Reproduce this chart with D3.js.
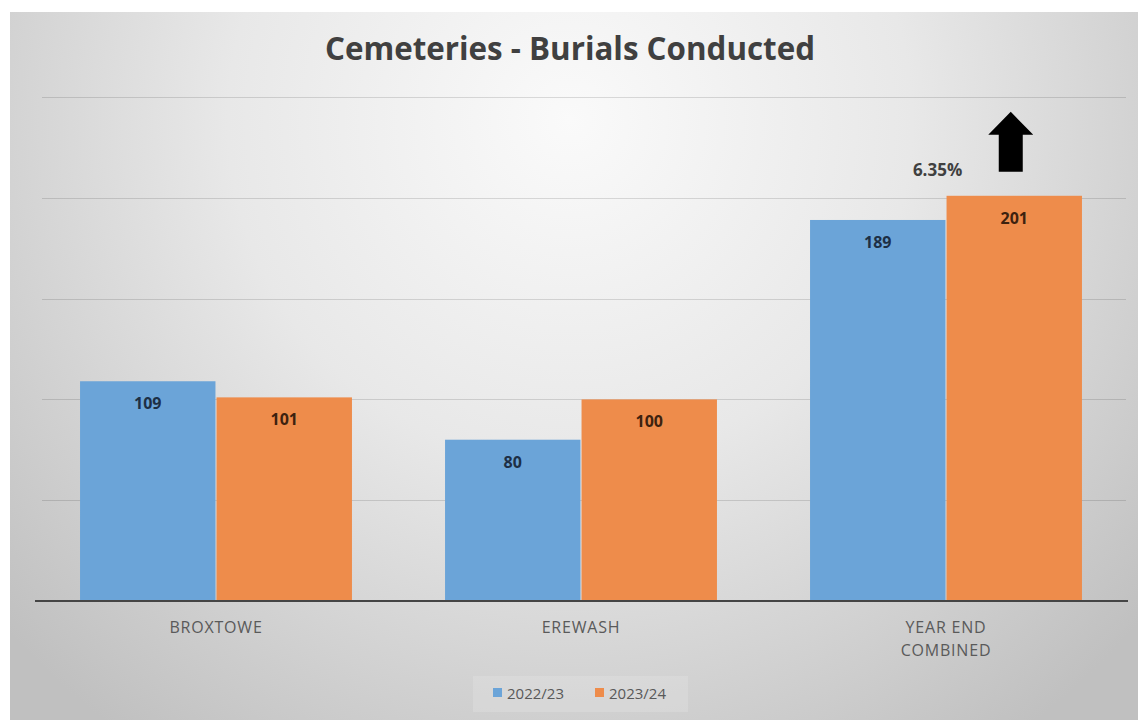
<!DOCTYPE html>
<html><head><meta charset="utf-8">
<script src="https://cdn.jsdelivr.net/npm/d3@7"></script>
<style>html,body{margin:0;padding:0;background:#fff;}svg{display:block;}</style>
</head><body>
<svg id="chart" width="1138" height="720"></svg>
<script>
const title = "Cemeteries - Burials Conducted";
const categories = ["BROXTOWE", "EREWASH", "YEAR END COMBINED"];
const categoryLines = [["BROXTOWE"], ["EREWASH"], ["YEAR END", "COMBINED"]];
const seriesNames = ["2022/23", "2023/24"];
const values2022 = [109, 80, 189];
const values2023 = [101, 100, 201];
const yTicks = [0, 50, 100, 150, 200, 250];
const colors = ["#6ba4d8", "#ee8c4b"];
const labelColors = ["#1d2f45", "#3d220f"];

const svg = d3.select("#chart");
const W = 1138, H = 720;

// background
const defs = svg.append("defs");
const rg = defs.append("radialGradient").attr("id", "bg")
  .attr("gradientUnits", "userSpaceOnUse")
  .attr("cx", 570).attr("cy", 120).attr("r", 760);
rg.append("stop").attr("offset", 0).attr("stop-color", "#fafafa");
rg.append("stop").attr("offset", 0.45).attr("stop-color", "#e8e8e8");
rg.append("stop").attr("offset", 1).attr("stop-color", "#c0c0c0");
svg.append("rect").attr("x", 10).attr("y", 12).attr("width", W - 10).attr("height", H - 12).attr("fill", "url(#bg)");

const x0 = d3.scaleBand().domain(categories).range([33.5, 1128.5]).paddingInner(0.255).paddingOuter(0.1275);
const x1 = d3.scaleBand().domain(seriesNames).range([0, x0.bandwidth()]).paddingInner(0.008);
const y = d3.scaleLinear().domain([0, 250]).range([601, 97]);

// gridlines
svg.append("g").selectAll("line").data(yTicks.filter(d => d > 0)).join("line")
  .attr("x1", 42).attr("x2", 1126)
  .attr("y1", d => Math.round(y(d)) + 0.5).attr("y2", d => Math.round(y(d)) + 0.5)
  .attr("stroke", "rgba(0,0,0,0.13)").attr("stroke-width", 1.2);

// title
svg.append("text").attr("x", 570).attr("y", 60).attr("text-anchor", "middle")
  .attr("font-family", "Open Sans").attr("font-weight", 700).attr("font-size", 33)
  .attr("textLength", 490).attr("lengthAdjust", "spacingAndGlyphs")
  .attr("fill", "#404040").text(title);

const rows = categories.map((c, i) => ({cat: c, vals: [values2022[i], values2023[i]]}));

const groups = svg.append("g").selectAll("g").data(rows).join("g")
  .attr("transform", d => `translate(${x0(d.cat)},0)`);

groups.selectAll("rect").data(d => d.vals.map((v, j) => ({v, s: seriesNames[j], j}))).join("rect")
  .attr("x", d => x1(d.s)).attr("width", x1.bandwidth())
  .attr("y", d => y(d.v)).attr("height", d => y(0) - y(d.v))
  .attr("fill", d => colors[d.j]);

groups.selectAll("text.val").data(d => d.vals.map((v, j) => ({v, s: seriesNames[j], j}))).join("text")
  .attr("class", "val")
  .attr("x", d => x1(d.s) + x1.bandwidth() / 2).attr("y", d => y(d.v) + 28)
  .attr("text-anchor", "middle").attr("font-family", "Open Sans").attr("font-weight", 700)
  .attr("font-size", 16).attr("fill", d => labelColors[d.j]).text(d => d.v);

// axis line
svg.append("line").attr("x1", 35).attr("x2", 1128).attr("y1", y(0)).attr("y2", y(0))
  .attr("stroke", "#454545").attr("stroke-width", 2.2);

// category labels
categories.forEach((c, i) => {
  const t = svg.append("text").attr("text-anchor", "middle")
    .attr("font-family", "Open Sans").attr("font-size", 16).attr("fill", "#5a5a5a")
    .attr("letter-spacing", 0.8);
  categoryLines[i].forEach((ln, k) => {
    t.append("tspan").attr("x", x0(c) + x0.bandwidth() / 2).attr("y", y(0) + 32 + k * 23).text(ln);
  });
});

// change annotation
const last = categories.length - 1;
const pct = ((values2023[last] - values2022[last]) / values2022[last] * 100).toFixed(2) + "%";
const xo = x0(categories[last]) + x1(seriesNames[1]);
const yTop = y(values2023[last]);
svg.append("text").attr("x", xo - 9).attr("y", yTop - 20).attr("text-anchor", "middle")
  .attr("font-family", "Open Sans").attr("font-weight", 700).attr("font-size", 17)
  .attr("fill", "#404040").text(pct);

const ax = xo + x1.bandwidth() / 2 - 3.5;
const aBottom = yTop - 24, aTop = yTop - 84, aHead = yTop - 61;
const arrow = d3.path();
arrow.moveTo(ax, aTop);
arrow.lineTo(ax + 22.5, aHead);
arrow.lineTo(ax + 12, aHead);
arrow.lineTo(ax + 12, aBottom);
arrow.lineTo(ax - 12, aBottom);
arrow.lineTo(ax - 12, aHead);
arrow.lineTo(ax - 22.5, aHead);
arrow.closePath();
svg.append("path").attr("d", arrow.toString()).attr("fill", "#000");

// legend
const lg = svg.append("g").attr("transform", "translate(473,676)");
lg.append("rect").attr("width", 215).attr("height", 36).attr("fill", "rgba(255,255,255,0.15)");
const items = [{n: seriesNames[0], x: 20}, {n: seriesNames[1], x: 122}];
items.forEach((it, j) => {
  lg.append("rect").attr("x", it.x).attr("y", 12).attr("width", 9).attr("height", 9).attr("fill", colors[j]);
  lg.append("text").attr("x", it.x + 14).attr("y", 23).attr("font-family", "Open Sans")
    .attr("font-size", 15).attr("fill", "#595959").text(it.n);
});
</script>
</body></html>
